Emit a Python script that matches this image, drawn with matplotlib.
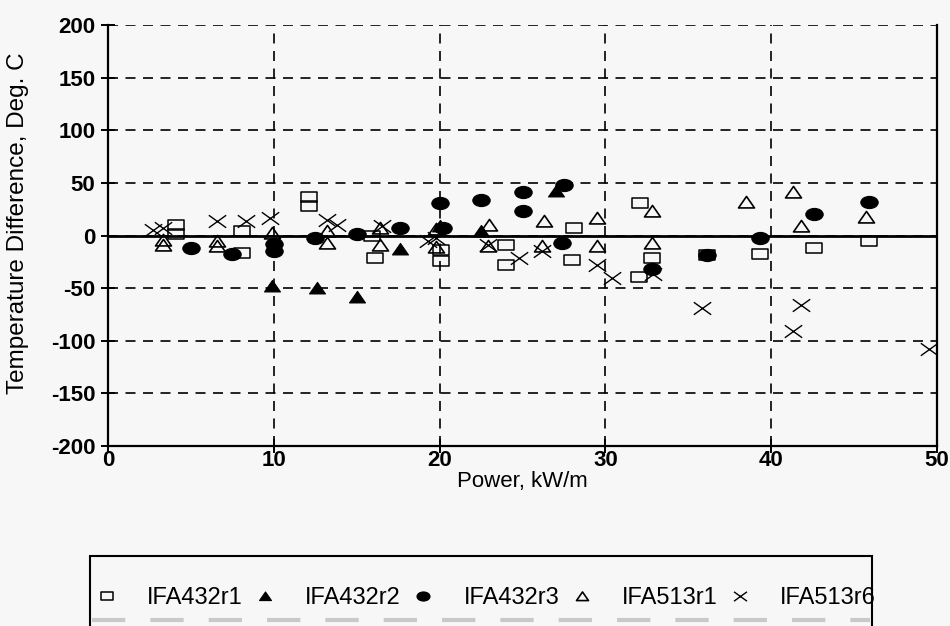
import matplotlib
matplotlib.use("Agg")
import matplotlib.pyplot as plt
from matplotlib.path import Path
from matplotlib.lines import Line2D
from matplotlib.patches import Rectangle

# ---- data: power (kW/m) and temperature difference (deg C) per rod ----
r432_1_x = [4.1, 4.1, 8.1, 8.1, 12.1, 12.1, 15.9, 16.1, 20.1, 20.1, 24.0, 24.0,
            28.1, 28.0, 32.1, 32.8, 32.0, 36.1, 39.3, 42.6, 45.9]
r432_1_y = [10, 1, 4, -17, 37, 28, 0, -21, -14, -24, -9, -28,
            7, -23, 31, -21, -39, -19, -18, -12, -5]

r432_2_x = [9.9, 12.6, 15.0, 17.6, 20.0, 22.5, 27.0]
r432_2_y = [-48, -50, -58, -13, 9, 4, 42]

r432_3_x = [5.0, 7.5, 10.0, 10.0, 12.5, 15.0, 17.6, 20.0, 20.2, 22.5, 25.0, 25.0,
            27.5, 27.4, 32.8, 36.1, 39.3, 42.6, 45.9]
r432_3_y = [-12, -18, -8, -15, -2, 1, 7, 31, 7, 34, 41, 23,
            48, -7, -32, -19, -2, 20, 32]

r513_1_x = [3.3, 3.3, 6.6, 6.6, 9.9, 13.2, 13.2, 16.4, 16.4, 19.8, 19.8, 23.0,
            22.9, 26.3, 26.2, 29.5, 29.5, 32.8, 32.8, 38.5, 41.3, 41.8, 45.7]
r513_1_y = [-4, -9, -5, -10, 2, 4, -7, 7, -9, 6, -11, 10,
            -10, 14, -10, 17, -10, 23, -7, 32, 41, 9, 18]

r513_6_x = [2.7, 3.3, 6.6, 8.3, 9.8, 13.2, 13.8, 16.5, 19.3, 19.8, 22.9, 24.8,
            26.2, 29.5, 30.4, 32.9, 35.8, 41.8, 41.3, 49.5]
r513_6_y = [5, 7, 14, 14, 17, 15, 10, 9, -5, -2, -9, -21,
            -15, -28, -40, -37, -69, -66, -91, -108]

series_names = ["IFA432r1", "IFA432r2", "IFA432r3", "IFA513r1", "IFA513r6"]

x_ticks = [0, 10, 20, 30, 40, 50]
y_ticks = [-200, -150, -100, -50, 0, 50, 100, 150, 200]

# ---- marker shapes (slightly wide, flat symbols) ----
M, L, C = Path.MOVETO, Path.LINETO, Path.CLOSEPOLY
box_path = Path([(-1, -0.62), (1, -0.62), (1, 0.62), (-1, 0.62), (-1, -0.62)],
                [M, L, L, L, C])
tri_path = Path([(-1, -0.68), (1, -0.68), (0, 0.76), (-1, -0.68)], [M, L, L, C])
circ = Path.unit_circle()
ell_path = Path(circ.vertices * [1.0, 0.70], circ.codes)
cross_path = Path([(-1, -0.72), (1, 0.72), (-1, 0.72), (1, -0.72)], [M, L, M, L])

bg = "#f6f7f6"
ink = "black"
plt.rcParams["font.family"] = ["Liberation Sans", "DejaVu Sans"]

W, H = 950, 626
fig = plt.figure(figsize=(9.5, 6.26), dpi=100, facecolor=bg)
ax = fig.add_axes([108 / W, 1 - 446 / H, 829 / W, 421 / H])
ax.set_facecolor(bg)

ax.set_xlim(0, 50)
ax.set_ylim(-200, 200)
ax.set_xticks(x_ticks)
ax.set_yticks(y_ticks)
ax.set_xticklabels([str(v) for v in x_ticks])
ax.set_yticklabels([str(v) for v in y_ticks])

ax.grid(True, color=ink, linestyle=(0, (6, 4.5)), linewidth=1.2, zorder=1)
ax.axhline(0, color=ink, linewidth=2.0, zorder=2)

for side in ("left", "right", "bottom"):
    ax.spines[side].set_linewidth(1.6)
    ax.spines[side].set_color(ink)
ax.spines["top"].set_visible(False)

ax.tick_params(axis="both", direction="inout", length=10, width=1.4,
               labelsize=16, colors=ink)
ax.tick_params(axis="y", pad=4)
ax.tick_params(axis="x", pad=-2)
for lab in ax.get_xticklabels() + ax.get_yticklabels():
    lab.set_fontweight("bold")

common = dict(linestyle="none", zorder=4)
h1, = ax.plot(r432_1_x, r432_1_y, marker=box_path, markersize=12,
              markerfacecolor="none", markeredgecolor=ink, markeredgewidth=1.1,
              label=series_names[0], **common)
h2, = ax.plot(r432_2_x, r432_2_y, marker=tri_path, markersize=11.5,
              markerfacecolor=ink, markeredgecolor=ink, markeredgewidth=0.8,
              label=series_names[1], **common)
h3, = ax.plot(r432_3_x, r432_3_y, marker=ell_path, markersize=12.5,
              markerfacecolor=ink, markeredgecolor=ink, markeredgewidth=0.8,
              label=series_names[2], **common)
h4, = ax.plot(r513_1_x, r513_1_y, marker=tri_path, markersize=11.5,
              markerfacecolor="none", markeredgecolor=ink, markeredgewidth=1.2,
              label=series_names[3], **common)
h5, = ax.plot(r513_6_x, r513_6_y, marker=cross_path, markersize=12.5,
              markerfacecolor="none", markeredgecolor=ink, markeredgewidth=1.0,
              label=series_names[4], **common)

ax.set_xlabel("Power, kW/m", fontsize=16, labelpad=0)
ax.set_ylabel("Temperature Difference, Deg. C", fontsize=17.5)
ax.yaxis.set_label_coords((29 - 108) / 829, (446 - 223) / 421)

# key: box outline plus a single row of entries
fig.add_artist(Rectangle((90 / W, 1 - 670 / H), 782 / W, 114 / H,
                         transform=fig.transFigure, fill=False,
                         edgecolor=ink, linewidth=1.5, zorder=3))
leg = fig.legend(handles=[h1, h2, h3, h4, h5], loc="center left",
                 bbox_to_anchor=(95 / W, 1 - 598 / H, 781 / W, 0),
                 mode="expand", ncol=5, fontsize=17, frameon=False,
                 borderpad=0, handlelength=1.0, handletextpad=1.2,
                 markerscale=0.75, borderaxespad=0, columnspacing=1.0)

# faint dashed rule across the lower part of the key box
fig.add_artist(Line2D([92 / W, 870 / W], [1 - 620 / H] * 2,
                      color="#c9c9c9", linewidth=3, linestyle=(0, (8, 6)),
                      transform=fig.transFigure, zorder=5))

fig.savefig("out.png", dpi=100, facecolor=bg)
